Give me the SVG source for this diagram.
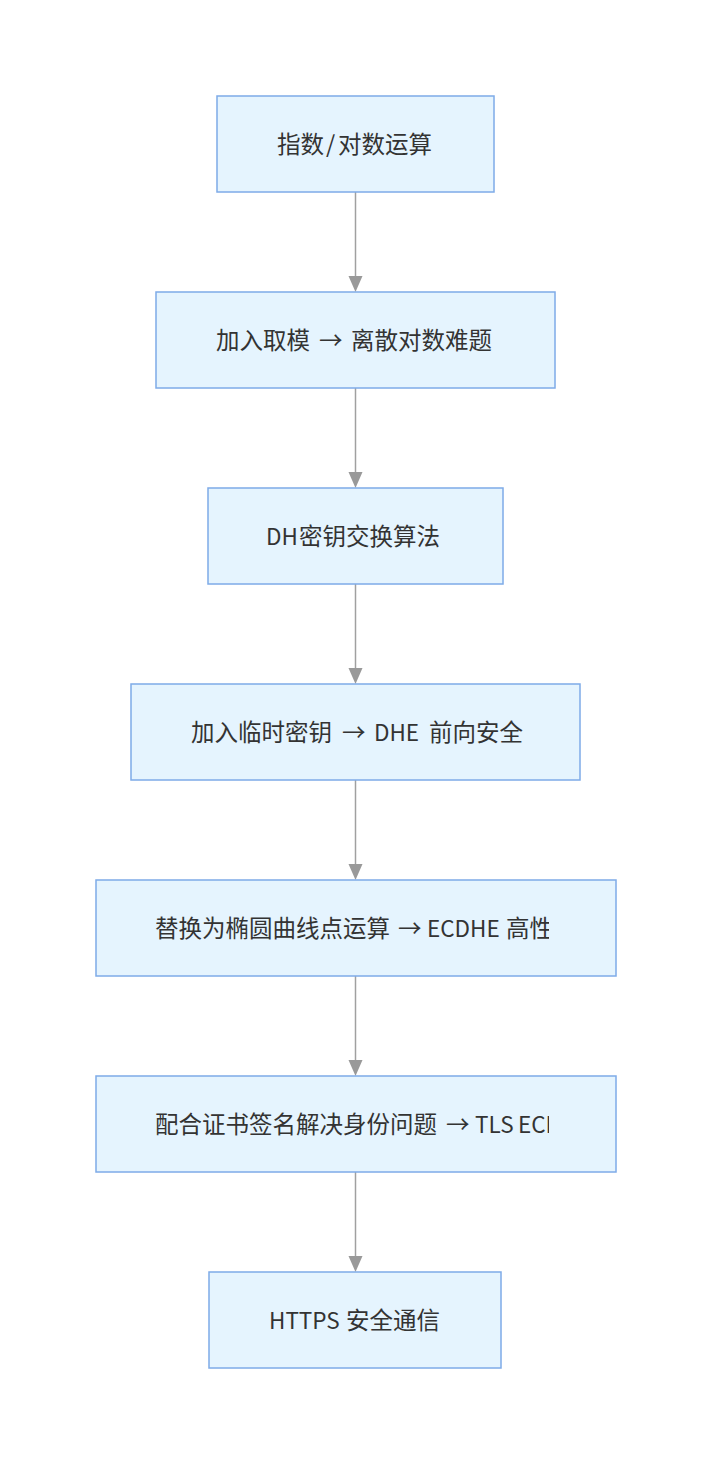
<svg xmlns="http://www.w3.org/2000/svg" width="711" height="1463" viewBox="0 0 711 1463">
<style>
.node rect{fill:#e5f4fe;stroke:#7eabe8;stroke-width:1.5}
.node text{font-family:"Noto Sans CJK SC","Noto Sans",sans-serif;font-size:23.5px;fill:#333;dominant-baseline:central}
.lat{font-size:22.5px}
.edge{stroke:#a0a0a0;stroke-width:1.5;fill:none}
.head{fill:#999}
</style>
<defs>
<clipPath id="clip5"><rect x="150" y="880" width="399" height="96"/></clipPath>
<clipPath id="clip6"><rect x="150" y="1076" width="399" height="96"/></clipPath>
</defs>
<rect width="711" height="1463" fill="#fff"/>
<g id="edges">
<path class="edge" d="M355.5,192 V276"/><path class="head" d="M348.5,276 H362.5 L355.5,292 Z"/>
<path class="edge" d="M355.5,388 V472"/><path class="head" d="M348.5,472 H362.5 L355.5,488 Z"/>
<path class="edge" d="M355.5,584 V668"/><path class="head" d="M348.5,668 H362.5 L355.5,684 Z"/>
<path class="edge" d="M355.5,780 V864"/><path class="head" d="M348.5,864 H362.5 L355.5,880 Z"/>
<path class="edge" d="M355.5,976 V1060"/><path class="head" d="M348.5,1060 H362.5 L355.5,1076 Z"/>
<path class="edge" d="M355.5,1172 V1256"/><path class="head" d="M348.5,1256 H362.5 L355.5,1272 Z"/>
</g>
<g id="n1" class="node"><rect x="217" y="96" width="277" height="96"/><text x="277" y="143">指数<tspan x="326">/</tspan><tspan x="338">对数运算</tspan></text></g>
<g id="n2" class="node"><rect x="156" y="292" width="399" height="96"/><text x="216" y="339">加入取模<tspan x="319">→</tspan><tspan x="351">离散对数难题</tspan></text></g>
<g id="n3" class="node"><rect x="208" y="488" width="295" height="96"/><text x="266" y="535"><tspan class="lat">DH</tspan><tspan x="299">密钥交换算法</tspan></text></g>
<g id="n4" class="node"><rect x="131" y="684" width="449" height="96"/><text x="191" y="731">加入临时密钥<tspan x="342">→</tspan><tspan class="lat" x="374">DHE</tspan><tspan x="429">前向安全</tspan></text></g>
<g id="n5" class="node"><rect x="96" y="880" width="520" height="96"/><text x="155" y="927" clip-path="url(#clip5)">替换为椭圆曲线点运算<tspan x="398">→</tspan><tspan class="lat" x="427">ECDHE</tspan><tspan x="506">高性能</tspan></text></g>
<g id="n6" class="node"><rect x="96" y="1076" width="520" height="96"/><text x="155" y="1123" clip-path="url(#clip6)">配合证书签名解决身份问题<tspan x="446">→</tspan><tspan class="lat" x="475">TLS</tspan><tspan class="lat" x="518">ECDHE</tspan></text></g>
<g id="n7" class="node"><rect x="209" y="1272" width="292" height="96"/><text x="269" y="1319"><tspan class="lat">HTTPS</tspan><tspan x="346">安全通信</tspan></text></g>
</svg>
